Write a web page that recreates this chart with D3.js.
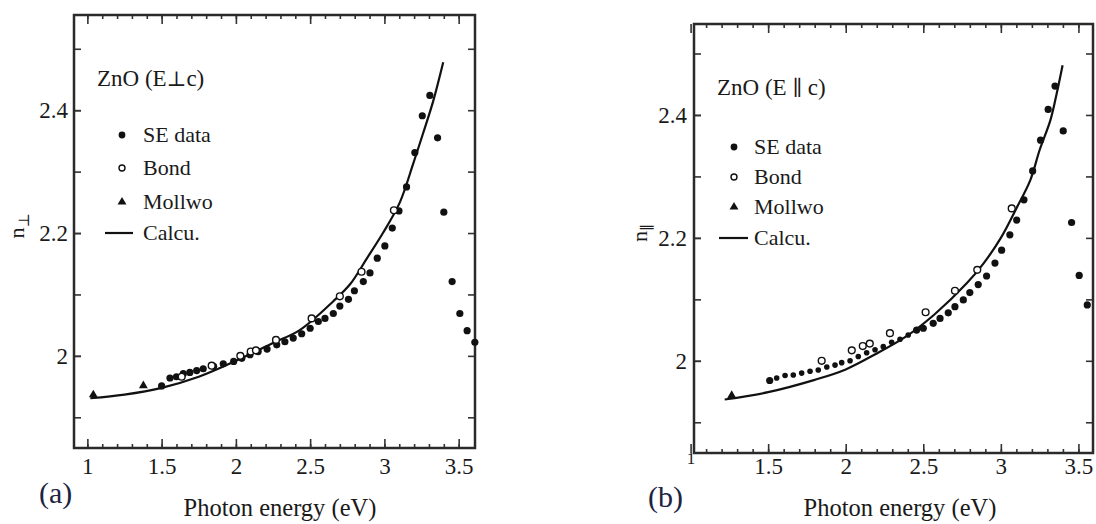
<!DOCTYPE html>
<html>
<head>
<meta charset="utf-8">
<script src="https://cdnjs.cloudflare.com/ajax/libs/d3/7.8.5/d3.min.js"></script>
<style>
  body { margin: 0; background: #fff; }
  svg { display: block; }
</style>
</head>
<body>
<div id="canvas"></div>
<script>
var width = 1096,
	height = 524;
var serif = "'Liberation Serif', 'DejaVu Serif', 'Times New Roman', Times, serif";

// ---- panel (a): E perpendicular to c ----
var seDataA = [[1.5,1.951],[1.556,1.964],[1.6,1.966],[1.646,1.971],[1.69,1.973],[1.736,1.976],[1.78,1.979],
	[1.85,1.983],[1.915,1.987],[1.985,1.991],[2.04,1.996],[2.095,2.002],[2.15,2.007],[2.21,2.011],[2.275,2.018],
	[2.33,2.023],[2.386,2.029],[2.443,2.036],[2.5,2.045],[2.555,2.056],[2.6,2.061],[2.656,2.069],[2.7,2.081],
	[2.758,2.092],[2.798,2.106],[2.858,2.121],[2.903,2.135],[2.952,2.159],[3.003,2.179],[3.053,2.208],[3.098,2.236],
	[3.149,2.275],[3.205,2.331],[3.255,2.391],[3.306,2.424],[3.358,2.355],[3.40,2.234],[3.456,2.121],[3.508,2.069],
	[3.557,2.041],[3.609,2.022]];
var bondA = [[1.635,1.966],[1.837,1.984],[2.03,2.0],[2.1,2.007],[2.135,2.009],[2.27,2.026],[2.51,2.061],[2.7,2.097],[2.846,2.137],[3.064,2.237]];
var mollwoA = [[1.04,1.935],[1.377,1.950]];
var calcA = [[1.02,1.931],[1.25,1.937],[1.5,1.948],[1.75,1.966],[2.0,1.992],[2.25,2.021],[2.43,2.042],[2.656,2.089],
	[2.77,2.117],[2.88,2.158],[2.99,2.2],[3.104,2.25],[3.194,2.313],[3.26,2.362],[3.33,2.416],[3.396,2.478]];

// ---- panel (b): E parallel to c ----
var seDataB = [[1.51,1.968],[1.555,1.972],[1.609,1.976],[1.662,1.977],[1.716,1.98],[1.77,1.983],[1.823,1.985],
	[1.878,1.99],[1.931,1.993],[1.974,1.997],[2.028,2.0],[2.081,2.007],[2.135,2.013],[2.189,2.018],[2.242,2.023],
	[2.296,2.03],[2.35,2.035],[2.403,2.042],[2.457,2.05],[2.5,2.053],[2.564,2.061],[2.608,2.069],[2.661,2.078],
	[2.704,2.088],[2.758,2.099],[2.8,2.111],[2.854,2.124],[2.908,2.138],[2.962,2.159],[3.005,2.18],[3.058,2.205],
	[3.102,2.229],[3.149,2.262],[3.205,2.309],[3.256,2.359],[3.305,2.409],[3.349,2.447],[3.402,2.374],[3.456,2.225],
	[3.505,2.139],[3.557,2.091]];
var bondB = [[1.845,2.0],[2.039,2.017],[2.11,2.024],[2.155,2.028],[2.285,2.045],[2.515,2.079],[2.704,2.114],[2.848,2.148],[3.07,2.248]];
var mollwoB = [[1.265,1.942]];
var calcB = [[1.22,1.937],[1.5,1.949],[1.8,1.969],[2.0,1.986],[2.2,2.012],[2.38,2.038],[2.57,2.075],[2.78,2.126],
	[2.89,2.159],[3.0,2.2],[3.1,2.248],[3.19,2.294],[3.25,2.343],[3.32,2.392],[3.36,2.435],[3.398,2.481]];

var xTickLabels = [1, 1.5, 2, 2.5, 3, 3.5];
var yTickLabels = [2, 2.2, 2.4];
var legendNames = ["SE data", "Bond", "Mollwo", "Calcu."];

var svg = d3.select("#canvas").append("svg")
	.attr("width", width)
	.attr("height", height)
	.style("background-color", "#fff");

var panels = [
	{
		x: d3.scaleLinear().domain([0.91, 3.61]).range([74, 475]),
		y: d3.scaleLinear().domain([1.85, 2.555]).range([448, 15]),
		se: seDataA, bond: bondA, mollwo: mollwoA, calc: calcA,
		xPad: 10, yPad: 6,
		title: ["ZnO (E", "\u22A5", "c)"], titleX: 97, titleY: 86,
		legX: 122, legTextX: 143, legRows: [135, 168, 202, 233], lineX: [105, 133],
		ySym: "\u22A5", yLabX: 24, yLabY: 226,
		xLabX: 280, tag: "(a)", tagX: 39, tagY: 503
	},
	{
		x: d3.scaleLinear().domain([1.022, 3.594]).range([694, 1093]),
		y: d3.scaleLinear().domain([1.85, 2.548]).range([453, 24]),
		se: seDataB, bond: bondB, mollwo: mollwoB, calc: calcB,
		xPad: 5, yPad: 7,
		title: ["ZnO (E ", "\u2225", " c)"], titleX: 717, titleY: 95,
		legX: 734, legTextX: 754, legRows: [147, 177, 207, 238], lineX: [719, 748],
		ySym: "\u2225", yLabX: 647, yLabY: 233,
		xLabX: 900, tag: "(b)", tagX: 648, tagY: 507
	}
];

panels.forEach(drawPanel);

// serif everywhere except the math symbols
svg.selectAll("text").style("font-family", serif);
svg.selectAll("tspan.sym").style("font-family", "'DejaVu Serif', 'DejaVu Sans', serif");

function drawPanel(p){
	var x0 = p.x.range()[0], x1 = p.x.range()[1],
		y0 = p.y.range()[1], y1 = p.y.range()[0];
	var g = svg.append("g");
	var minorX = d3.range(10, 36).map(function(d){ return d / 10; }).filter(function(d){ return d >= p.x.domain()[0] && d <= p.x.domain()[1]; });
	var minorY = d3.range(19, 26).map(function(d){ return d / 10; });

	// bottom axis: minor then labelled majors
	g.append("g").attr("transform", "translate(0," + y1 + ")")
		.call(d3.axisBottom(p.x).tickValues(minorX).tickSize(-4).tickFormat(""));
	var bottom = g.append("g").attr("transform", "translate(0," + y1 + ")")
		.call(d3.axisBottom(p.x).tickValues(xTickLabels).tickSize(-9).tickPadding(p.xPad).tickFormat(d3.format("")));
	// top axis
	g.append("g").attr("transform", "translate(0," + y0 + ")")
		.call(d3.axisTop(p.x).tickValues(minorX).tickSize(-4).tickFormat(""));
	g.append("g").attr("transform", "translate(0," + y0 + ")")
		.call(d3.axisTop(p.x).tickValues(xTickLabels).tickSize(-9).tickFormat(""));
	// left axis
	g.append("g").attr("transform", "translate(" + x0 + ",0)")
		.call(d3.axisLeft(p.y).tickValues(minorY).tickSize(-7).tickFormat(""));
	g.append("g").attr("transform", "translate(" + x0 + ",0)")
		.call(d3.axisLeft(p.y).tickValues(yTickLabels).tickSize(-7).tickPadding(p.yPad).tickFormat(d3.format("")));
	// right axis
	g.append("g").attr("transform", "translate(" + x1 + ",0)")
		.call(d3.axisRight(p.y).tickValues(minorY).tickSize(-7).tickFormat(""));

	g.selectAll(".domain").remove();
	g.selectAll(".tick line").attr("stroke", "#333").attr("stroke-width", 1.6);
	g.selectAll(".tick text").style("font-size", "23px").attr("fill", "#1a1a1a");

	if (p.tag === "(b)") {
		bottom.selectAll(".tick text").filter(function(d){ return d === 1; })
			.style("font-size", "17px").attr("dy", "0.35em");
	}

	// frame
	g.append("rect")
		.attr("x", x0).attr("y", y0)
		.attr("width", x1 - x0).attr("height", y1 - y0)
		.attr("fill", "none").attr("stroke", "#2a2a2a").attr("stroke-width", 2.5);

	// calculated curve
	var line = d3.line()
		.x(function(d){ return p.x(d[0]); })
		.y(function(d){ return p.y(d[1]); })
		.curve(d3.curveCatmullRom);
	g.append("path").datum(p.calc)
		.attr("d", line)
		.attr("fill", "none").attr("stroke", "#111").attr("stroke-width", 2.2);

	// SE data (filled)
	g.selectAll(".se").data(p.se).enter().append("circle")
		.attr("class", "se")
		.attr("cx", function(d){ return p.x(d[0]); })
		.attr("cy", function(d){ return p.y(d[1]); })
		.attr("r", function(d, i){
			if (p.tag === "(b)" && i > 0 && d[0] < 2.45) return 2.8;
			return 3.6;
		})
		.attr("fill", "#111");

	// Bond (open)
	g.selectAll(".bond").data(p.bond).enter().append("circle")
		.attr("class", "bond")
		.attr("cx", function(d){ return p.x(d[0]); })
		.attr("cy", function(d){ return p.y(d[1]); })
		.attr("r", 3.4)
		.attr("fill", "#fff").attr("stroke", "#111").attr("stroke-width", 1.4);

	// Mollwo (triangles)
	var tri = d3.symbol().type(d3.symbolTriangle).size(34);
	g.selectAll(".mollwo").data(p.mollwo).enter().append("path")
		.attr("class", "mollwo")
		.attr("transform", function(d){ return "translate(" + p.x(d[0]) + "," + (p.y(d[1]) - 1) + ")"; })
		.attr("d", tri)
		.attr("fill", "#111");

	// legend
	var r = p.legRows;
	g.append("text").attr("x", p.titleX).attr("y", p.titleY).style("font-size", "23px").attr("fill", "#1a1a1a")
		.selectAll("tspan").data(p.title).enter().append("tspan")
		.attr("class", function(d, i){ return i === 1 ? "sym" : null; })
		.style("font-size", function(d, i){ return i === 1 ? "21px" : null; })
		.text(function(d){ return d; });
	g.append("circle").attr("cx", p.legX).attr("cy", r[0]).attr("r", 3.4).attr("fill", "#111");
	g.append("circle").attr("cx", p.legX).attr("cy", r[1]).attr("r", 3).attr("fill", "#fff").attr("stroke", "#111").attr("stroke-width", 1.4);
	g.append("path").attr("transform", "translate(" + p.legX + "," + r[2] + ")").attr("d", tri).attr("fill", "#111");
	g.append("line").attr("x1", p.lineX[0]).attr("x2", p.lineX[1]).attr("y1", r[3]).attr("y2", r[3])
		.attr("stroke", "#111").attr("stroke-width", 2.2);
	g.selectAll(".leg").data(legendNames).enter().append("text")
		.attr("class", "leg")
		.attr("x", p.legTextX)
		.attr("y", function(d, i){ return r[i] + 7; })
		.attr("fill", "#1a1a1a")
		.style("font-size", "22px")
		.text(function(d){ return d; });

	// axis titles
	var yl = g.append("text")
		.attr("transform", "translate(" + p.yLabX + "," + p.yLabY + ") rotate(-90)")
		.attr("text-anchor", "middle")
		.attr("fill", "#1a1a1a")
		.style("font-size", "22px");
	yl.append("tspan").text("n");
	yl.append("tspan").attr("class", "sym").attr("dy", 5).style("font-size", "15px").text(p.ySym);

	g.append("text")
		.attr("x", p.xLabX).attr("y", 516)
		.attr("text-anchor", "middle")
		.attr("fill", "#1a1a1a")
		.style("font-size", "24.5px")
		.text("Photon energy (eV)");

	g.append("text")
		.attr("x", p.tagX).attr("y", p.tagY)
		.attr("fill", "#1c2440")
		.style("font-size", "30px")
		.text(p.tag);
}
</script>
</body>
</html>
